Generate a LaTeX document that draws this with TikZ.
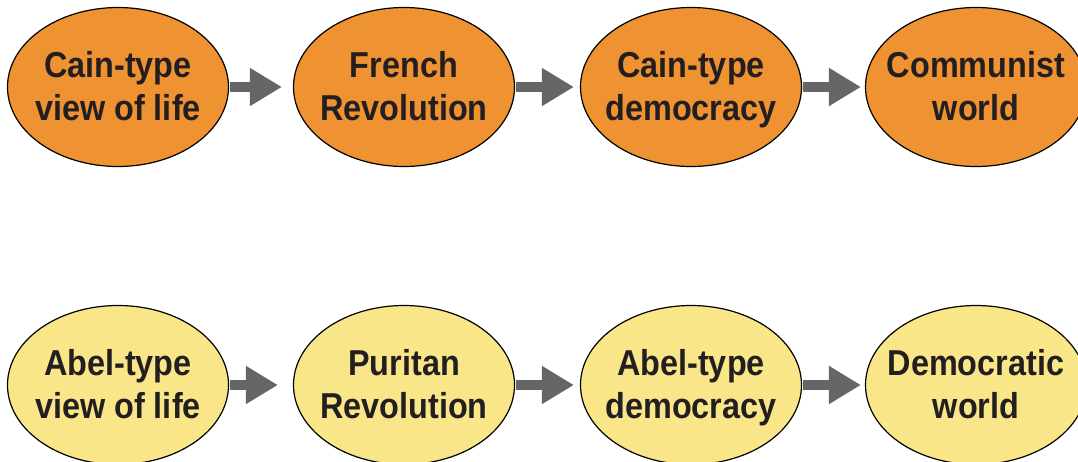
\documentclass[tikz,border=0pt]{standalone}
\usepackage{fontspec}
\setmainfont{Liberation Sans}[FakeStretch=0.9]
\usetikzlibrary{shapes.geometric,arrows.meta}
\definecolor{orangefill}{RGB}{239,146,50}
\definecolor{yellowfill}{RGB}{249,230,136}
\definecolor{arrowgray}{RGB}{102,102,102}
\definecolor{txt}{RGB}{35,31,32}
\newcommand\ovtxt[2]{\rule{0pt}{27pt}#1\\\smash{#2}\rule[-4pt]{0pt}{4pt}}
\tikzset{
  oval/.style={ellipse, draw=black, line width=1.2pt, minimum width=221pt, minimum height=159pt, inner xsep=-25pt, inner ysep=0pt, align=center, text=txt, font=\fontsize{36}{43}\selectfont\bfseries},
  cain/.style={oval, fill=orangefill},
  abel/.style={oval, fill=yellowfill},
  flow/.style={draw=arrowgray, line width=10pt, -{Triangle[length=32pt,width=36pt]}, arrowgray}
}
\begin{document}
\begin{tikzpicture}[x=1pt,y=-1pt]
\useasboundingbox (0,0) rectangle (1078,461);
\node[cain] (c1) at (118,87) {\ovtxt{Cain-type}{view of life}};
\node[cain] (c2) at (404,87) {\ovtxt{French}{Revolution}};
\node[cain] (c3) at (691,87) {\ovtxt{Cain-type}{democracy}};
\node[cain] (c4) at (976,87) {\ovtxt{Communist}{world}};
\node[abel] (a1) at (118,385) {\ovtxt{Abel-type}{view of life}};
\node[abel] (a2) at (404,385) {\ovtxt{Puritan}{Revolution}};
\node[abel] (a3) at (691,385) {\ovtxt{Abel-type}{democracy}};
\node[abel] (a4) at (976,385) {\ovtxt{Democratic}{world}};
\draw[flow, shorten <=0.6pt, shorten >=11pt] (c1.east) -- (c2.west);
\draw[flow, shorten <=0.6pt, shorten >=6pt] (c2.east) -- (c3.west);
\draw[flow, shorten <=0.6pt, shorten >=4pt] (c3.east) -- (c4.west);
\draw[flow, shorten <=0.6pt, shorten >=15pt] (a1.east) -- (a2.west);
\draw[flow, shorten <=0.6pt, shorten >=6pt] (a2.east) -- (a3.west);
\draw[flow, shorten <=0.6pt, shorten >=4pt] (a3.east) -- (a4.west);
\end{tikzpicture}
\end{document}
